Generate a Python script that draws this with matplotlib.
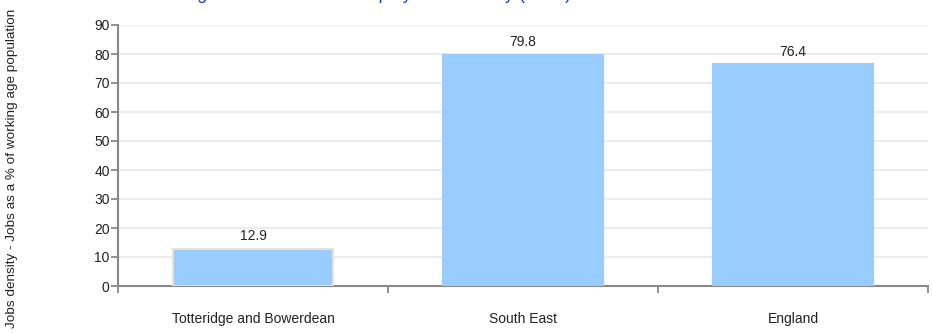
import numpy as np
import matplotlib.pyplot as plt

plt.rcParams['font.family'] = ['Liberation Sans', 'DejaVu Sans']

# Datos
areas = ['Totteridge and Bowerdean', 'South East', 'England']
densidad = [12.9, 79.8, 76.4]
y_ticks = [0, 10, 20, 30, 40, 50, 60, 70, 80, 90]

titulo = 'Totteridge and Bowerdean employment density (2021)'
etiqueta_y = 'Jobs density - Jobs as a % of working age population'

W, H = 932, 333
fig = plt.figure(figsize=(W / 100, H / 100), dpi=100)
ax = fig.add_axes([118 / W, 1 - 286 / H, (928 - 118) / W, (286 - 25) / H])

x = np.arange(len(areas))
bordes = ['#e6e2d6', '#99ccff', '#99ccff']
ax.bar(x, densidad, width=0.59, color='#99ccff', edgecolor=bordes, linewidth=1.5, zorder=3)

for xi, v in zip(x, densidad):
    ax.annotate(f'{v:.1f}', xy=(xi, v), xytext=(0, 4), textcoords='offset points',
                ha='center', va='bottom', fontsize=10, color='#222222')

ax.set_xlim(-0.5, len(areas) - 0.5)
ax.set_ylim(0, 90)
ax.set_yticks(y_ticks)
ax.set_yticklabels([str(t) for t in y_ticks], fontsize=10, color='#222222')
ax.yaxis.grid(True, color='#ebebeb', linewidth=1.3, zorder=0)

# marcas del eje x en los limites de cada categoria
ax.set_xticks(x)
ax.set_xticklabels(areas, fontsize=10, color='#222222')
ax.tick_params(axis='x', length=0, pad=19)
ax.set_xticks(np.arange(len(areas) + 1) - 0.5, minor=True)
ax.tick_params(axis='x', which='minor', length=5, width=1.3, color='#888888')
ax.tick_params(axis='y', length=5, width=1.3, color='#888888', pad=1)

for s in ['top', 'right']:
    ax.spines[s].set_visible(False)
for s in ['left', 'bottom']:
    ax.spines[s].set_color('#888888')
    ax.spines[s].set_linewidth(1.5)

fig.text(12 / W, 1 - 168 / H, etiqueta_y, rotation=90, ha='center', va='center',
         fontsize=9.7, color='#222222')
fig.text(138 / W, 1 + 1 / H, titulo, ha='left', va='baseline',
         fontsize=13, color='#1f3fbf')

fig.savefig('out.png', dpi=100)
